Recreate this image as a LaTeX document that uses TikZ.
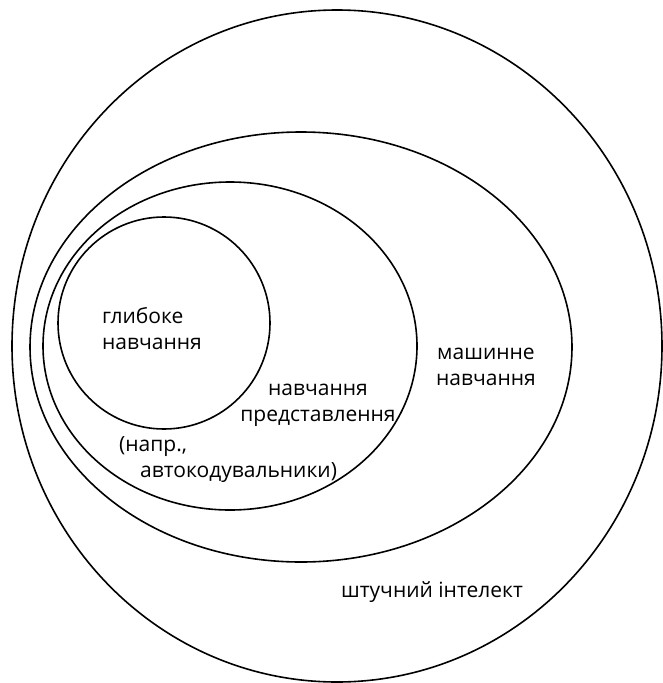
\documentclass[tikz,border=0pt]{standalone}
\usepackage{fontspec}
\setmainfont{Open Sans}
\begin{document}
\begin{tikzpicture}[x=1pt,y=-1pt,
  region/.style={draw=black, line width=1.6pt, fill=none},
  lbl/.style={font=\fontsize{21}{26}\selectfont, text=black, inner sep=0pt}]
  \useasboundingbox[fill=white] (0,0) rectangle (663,683);

  % nested sets, outermost first
  \draw[region] (337,346) ellipse [x radius=325, y radius=336];
  \draw[region] (301,347) ellipse [x radius=271, y radius=215];
  \draw[region] (230,346) ellipse [x radius=187, y radius=164];
  \draw[region] (164,323) circle [radius=106];

  % labels
  \node[lbl, align=left]   (dl)  at (152,329) {глибоке\\навчання};
  \node[lbl, align=center] (rl)  at (318,405) {навчання\\представлення};
  \node[lbl, align=left, anchor=west] (ex) at (119,460)
       {(напр.,\\\hspace*{21pt}автокодувальники)};
  \node[lbl, align=center] (ml)  at (486,367) {машинне\\навчання};
  \node[lbl, anchor=base]  (ai)  at (432,597) {штучний інтелект};
\end{tikzpicture}
\end{document}
